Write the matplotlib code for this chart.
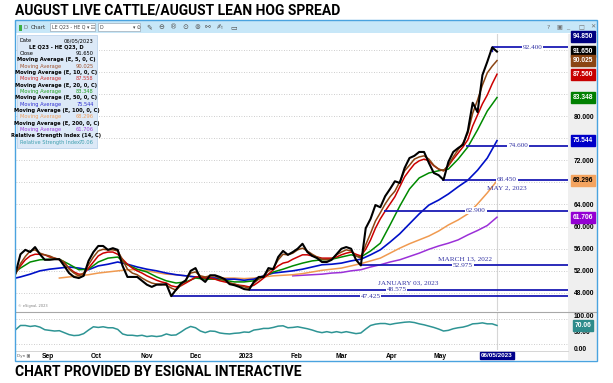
import numpy as np
import pandas as pd
import matplotlib
matplotlib.use("Agg")
import matplotlib.pyplot as plt
import matplotlib.dates as mdates
from matplotlib.patches import Rectangle
from matplotlib.lines import Line2D

# ---- values (LE Q23 - HE Q23, daily) ----
close_dates = pd.date_range("2022-08-12", "2023-06-05", freq="3D")
close = [51.6, 55.0, 55.8, 55.4, 56.3, 55.0, 54.0, 54.0, 54.1, 54.1,
         52.9, 51.6, 50.9, 50.7, 51.1, 53.8, 55.4, 56.5, 56.5, 55.8,
         56.1, 55.8, 52.9, 50.9, 50.9, 50.9, 50.2, 49.5, 49.1, 49.5,
         49.5, 49.6, 47.43, 48.6, 49.7, 50.3, 52.0, 52.5, 50.7, 50.0,
         51.2, 51.2, 50.9, 50.5, 49.6, 49.4, 49.1, 48.7, 48.58, 50.0,
         50.9, 50.9, 52.5, 52.3, 54.5, 55.6, 54.9, 55.4, 56.0, 56.9,
         55.4, 54.7, 54.3, 53.6, 53.6, 54.0, 55.0, 56.0, 56.3, 56.0,
         54.0, 52.98, 59.7, 61.4, 63.9, 63.5, 65.5, 66.8, 68.2, 67.9,
         70.6, 72.4, 72.8, 73.5, 73.5, 71.5, 69.7, 69.3, 68.45, 71.7,
         73.5, 74.2, 74.8, 77.3, 82.4, 80.7, 87.4, 89.8, 92.4, 91.65]
ema5 = [51.4, 53.3, 54.6, 55.6, 55.8, 55.2, 54.9, 54.7, 54.3, 54.1,
        53.6, 52.3, 51.6, 51.1, 51.6, 53.1, 54.5, 55.6, 55.9, 55.8,
        55.8, 55.6, 54.0, 52.3, 51.6, 51.3, 50.7, 50.2, 49.8, 49.6,
        49.6, 49.4, 48.9, 48.5, 49.4, 50.3, 51.6, 51.8, 51.1, 50.9,
        51.1, 51.1, 50.7, 50.3, 49.8, 49.6, 49.3, 49.1, 48.9, 49.8,
        50.5, 51.1, 52.0, 52.5, 54.0, 55.0, 54.9, 55.2, 55.8, 56.1,
        55.6, 55.0, 54.5, 54.1, 54.0, 54.1, 54.9, 55.4, 55.8, 55.6,
        54.7, 54.3, 56.7, 58.8, 61.0, 62.5, 64.1, 65.4, 66.4, 68.1,
        70.1, 71.1, 72.2, 72.6, 72.8, 72.2, 71.1, 70.4, 70.1, 71.1,
        72.6, 73.9, 75.1, 76.9, 80.5, 82.9, 85.6, 87.8, 89.0, 90.025]
ema10 = [51.6, 52.9, 54.0, 54.7, 55.0, 55.0, 54.9, 54.5, 54.3, 54.0,
         53.4, 52.5, 51.8, 51.4, 51.4, 52.5, 53.6, 54.7, 55.2, 55.4,
         55.4, 55.0, 54.1, 53.2, 52.5, 52.0, 51.6, 51.1, 50.7, 50.3,
         50.0, 49.8, 49.3, 49.1, 49.3, 49.8, 50.3, 50.9, 50.9, 50.7,
         50.7, 50.5, 50.2, 50.0, 49.8, 49.6, 49.4, 49.3, 49.1, 49.4,
         50.0, 50.7, 51.4, 52.2, 52.9, 53.4, 53.6, 54.1, 54.5, 54.9,
         54.9, 54.7, 54.5, 54.3, 54.3, 54.3, 54.5, 54.9, 55.2, 55.4,
         55.0, 54.7, 55.9, 57.6, 59.7, 61.4, 62.8, 64.1, 65.4, 67.2,
         69.0, 70.2, 71.3, 71.9, 72.2, 71.9, 71.0, 70.4, 70.1, 71.0,
         72.2, 73.3, 74.4, 75.7, 78.2, 80.2, 82.2, 83.8, 85.8, 87.56]
rsi = [57, 70, 70, 67, 69, 65, 57, 55, 53, 54,
       48, 42, 39, 40, 45, 56, 66, 64, 66, 63,
       63, 58, 44, 40, 40, 38, 40, 36, 38, 36,
       38, 44, 40, 41, 50, 60, 67, 63, 53, 48,
       53, 52, 47, 45, 44, 46, 47, 50, 49, 56,
       58, 61, 61, 64, 68, 69, 63, 64, 66, 63,
       60, 56, 51, 48, 51, 48, 51, 48, 51, 48,
       45, 47, 59, 70, 74, 76, 76, 73, 76, 78,
       80, 81, 79, 75, 72, 68, 64, 59, 53, 55,
       60, 63, 65, 69, 75, 76, 78, 75, 75, 70.06]

ma_dates = pd.date_range("2022-08-09", "2023-06-05", freq="6D")
ema20 = [51.2, 52.5, 53.6, 54.0, 54.1, 54.1, 53.2, 52.2, 52.3, 53.6,
         54.3, 54.5, 53.1, 52.3, 51.8, 50.9, 50.2, 49.8, 50.0, 50.7,
         50.5, 50.5, 50.3, 50.0, 50.0, 50.2, 50.9, 51.8, 52.3, 52.9,
         53.4, 53.8, 54.0, 54.1, 54.5, 54.9, 54.5, 55.6, 57.0, 60.3,
         63.7, 66.8, 68.8, 69.7, 70.1, 70.4, 72.2, 74.4, 77.5, 80.9,
         83.348]
ema50 = [50.5, 50.9, 51.4, 52.0, 52.3, 52.5, 52.7, 52.5, 52.2, 52.9,
         53.2, 53.6, 53.2, 52.7, 52.3, 52.0, 51.6, 51.3, 51.1, 50.9,
         50.7, 50.7, 50.5, 50.5, 50.3, 50.5, 51.1, 51.6, 51.8, 52.0,
         52.3, 52.7, 53.1, 53.2, 53.4, 53.8, 54.1, 54.9, 55.8, 57.2,
         58.7, 60.5, 62.3, 63.9, 64.8, 65.9, 67.2, 68.4, 70.2, 72.4,
         75.544]
ema100 = [np.nan] * 5 + [
         50.7, 50.9, 51.1, 51.3, 51.6, 51.8, 52.0, 52.2, 52.2, 52.0,
         51.7, 51.4, 51.3, 51.1, 50.9, 50.9, 50.8, 50.7, 50.7, 50.6,
         50.7, 50.9, 51.1, 51.2, 51.3, 51.5, 51.8, 52.1, 52.3, 52.5,
         52.9, 53.3, 53.8, 54.3, 55.2, 56.1, 56.9, 57.6, 58.3, 59.2,
         60.3, 61.2, 62.3, 64.1, 66.1, 68.296]
ema200 = [np.nan] * 29 + [
         51.1, 51.2, 51.3, 51.4, 51.6, 51.7, 52.0, 52.2, 52.7, 53.1,
         53.6, 54.0, 54.6, 55.2, 55.9, 56.5, 57.0, 57.6, 58.5, 59.3,
         60.2, 61.706]

level_values = [92.400, 74.600, 68.450, 62.900, 52.975, 48.575, 47.425]
level_starts = ["2023-06-02", "2023-05-17", "2023-05-02", "2023-03-27",
                "2023-03-13", "2023-01-03", "2022-11-16"]
level_label_dates = ["2023-06-27", "2023-06-18", "2023-06-11", "2023-05-23",
                     "2023-05-15", "2023-04-04", "2023-03-19"]
notes = ["MAY 2, 2023", "MARCH 13, 2022", "JANUARY 03, 2023"]
note_dates = ["2023-06-11", "2023-05-16", "2023-04-11"]
note_prices = [67.05, 54.15, 49.8]

tag_values = [94.850, 91.650, 90.025, 87.560, 83.348, 75.544, 68.296, 61.706]
tag_colors = ["#000080", "#000000", "#8b4513", "#c80000", "#008000",
              "#0000c8", "#f4a460", "#9400d3"]
price_ticks = [48, 52, 56, 60, 64, 68, 72, 76, 80, 84, 88, 92]
price_tick_labels = ["48.000", "52.000", "56.000", "60.000", "64.000", "",
                     "72.000", "", "80.000", "", "", ""]

month_starts = ["2022-09-01", "2022-10-01", "2022-11-01", "2022-12-01", "2023-01-01",
                "2023-02-01", "2023-03-01", "2023-04-01", "2023-05-01"]
month_labels = ["Sep", "Oct", "Nov", "Dec", "2023", "Feb", "Mar", "Apr", "May"]
last_day = "2023-06-05"

legend_rows = [("Date", "06/05/2023", "#000000", False),
               ("LE Q23 - HE Q23, D", None, "#000000", True),
               ("Close", "91.650", "#000000", False),
               ("Moving Average (E, 5, 0, C)", None, "#000000", True),
               ("Moving Average", "90.025", "#a0522d", False),
               ("Moving Average (E, 10, 0, C)", None, "#000000", True),
               ("Moving Average", "87.558", "#d03030", False),
               ("Moving Average (E, 20, 0, C)", None, "#000000", True),
               ("Moving Average", "83.348", "#20a020", False),
               ("Moving Average (E, 50, 0, C)", None, "#000000", True),
               ("Moving Average", "75.544", "#3030d0", False),
               ("Moving Average (E, 100, 0, C)", None, "#000000", True),
               ("Moving Average", "68.296", "#f0a060", False),
               ("Moving Average (E, 200, 0, C)", None, "#000000", True),
               ("Moving Average", "61.706", "#a040e0", False),
               ("Relative Strength Index (14, C)", None, "#000000", True),
               ("Relative Strength Index", "70.06", "#40a0b0", False)]

# ---- layout (pixels of a 613x383 picture) ----
W, H = 613, 383
NARROW = ["Liberation Sans Narrow", "DejaVu Sans"]
LEVEL_BLUE = "#1a1ab4"


def fx(x):
    return x / W


def fy(y):
    return 1 - y / H


fig = plt.figure(figsize=(W / 100, H / 100), dpi=100)
fig.patch.set_facecolor("white")

# window chrome
fig.add_artist(Rectangle((fx(16), fy(33)), fx(581), 12 / H, transform=fig.transFigure,
                         fc="#c7e7f8", ec="none", zorder=-2))
fig.add_artist(Rectangle((fx(568), fy(360)), fx(29), 326 / H, transform=fig.transFigure,
                         fc="#efefef", ec="none", zorder=-2))
fig.add_artist(Rectangle((fx(15), fy(361)), fx(582), 341 / H, transform=fig.transFigure,
                         fc="none", ec="#4aa3df", lw=1.0, zorder=8))

ax = fig.add_axes([fx(16), fy(311), fx(552), 277 / H])
rx = fig.add_axes([fx(16), fy(350), fx(552), 38 / H], sharex=ax)

x0 = mdates.date2num(pd.Timestamp("2022-08-12"))
x_right = x0 + 340.8
ax.set_xlim(x0 + 0.25, x_right)
ax.set_ylim(44.74, 94.83)
rx.set_ylim(-5.2, 111.3)

# price panel
ax.plot(ma_dates, ema200, color="#9b30d8", lw=1.1, zorder=2)
ax.plot(ma_dates, ema100, color="#f09a50", lw=1.1, zorder=2)
ax.plot(ma_dates, ema50, color="#0010c8", lw=1.2, zorder=2)
ax.plot(ma_dates, ema20, color="#008a00", lw=1.1, zorder=2)
ax.plot(close_dates, ema10, color="#cc0000", lw=1.1, zorder=2)
ax.plot(close_dates, ema5, color="#8b4513", lw=1.1, zorder=2)

for v, s, ld in zip(level_values, level_starts, level_label_dates):
    xs = mdates.date2num(pd.Timestamp(s))
    ax.plot([xs, x_right], [v, v], color=LEVEL_BLUE, lw=1.3, zorder=4,
            solid_capstyle="butt")
    ax.text(pd.Timestamp(ld), v, f"{v:.3f}", fontsize=5.2, family="Liberation Serif",
            color="#3535a5", ha="center", va="center", zorder=5,
            bbox=dict(boxstyle="square,pad=0.12", fc="white", ec="none"))
ax.plot([pd.Timestamp(level_starts[0])] * 2, [level_values[0], level_values[0] - 0.7],
        color=LEVEL_BLUE, lw=1.0, zorder=4)
for t, d, p in zip(notes, note_dates, note_prices):
    ax.text(pd.Timestamp(d), p, t, fontsize=5.2, family="Liberation Serif",
            color="#3535a5", ha="center", va="center", zorder=5)

ax.plot(close_dates, close, color="black", lw=1.5, zorder=6)

ax.axvline(pd.Timestamp(last_day), color="#d6d6d6", lw=0.8, zorder=1)
ax.set_yticks(price_ticks)
ax.set_yticklabels(price_tick_labels)
ax.yaxis.tick_right()
ax.tick_params(axis="y", length=0, pad=4, labelsize=4.8)
for lbl in ax.get_yticklabels():
    lbl.set_fontweight("bold")
    lbl.set_family("Liberation Sans")
ax.tick_params(axis="x", length=0, labelbottom=False)
ax.grid(axis="y", linestyle=(0, (1, 2)), color="#bdbdbd", lw=0.6)
for sp in ax.spines.values():
    sp.set_visible(False)

ytr = ax.get_yaxis_transform()
for v, c in zip(tag_values, tag_colors):
    fg = "black" if c == "#f4a460" else "white"
    ax.text(1.0272, min(v, 94.35), f"{v:.3f}", transform=ytr, ha="center", va="center",
            fontsize=4.8, fontweight="bold", family="Liberation Sans", color=fg,
            clip_on=False, zorder=10,
            bbox=dict(boxstyle="square,pad=0.28", fc=c, ec=c))

ax.text(0.003, 0.012, "\u00a9 eSignal, 2023", transform=ax.transAxes, fontsize=2.6,
        color="#808080", ha="left", va="bottom")

# RSI panel
rx.plot(close_dates, rsi, color="#2e9494", lw=1.1, zorder=3)
rx.axvline(pd.Timestamp(last_day), color="#d6d6d6", lw=0.8, zorder=1)
for g in (89, 13):
    rx.axhline(g, color="#bdbdbd", lw=0.6, linestyle=(0, (1, 2)), zorder=1)
rx.set_yticks([0, 50, 100])
rx.set_yticklabels(["0.00", "50.00", "100.00"])
rx.yaxis.tick_right()
rx.tick_params(axis="y", length=0, pad=4, labelsize=4.8)
for lbl in rx.get_yticklabels():
    lbl.set_fontweight("bold")
    lbl.set_family("Liberation Sans")
rx.set_xticks([pd.Timestamp(m) for m in month_starts])
rx.set_xticklabels(month_labels)
rx.tick_params(axis="x", length=0, pad=2.2, labelsize=4.8)
for lbl in rx.get_xticklabels():
    lbl.set_fontweight("bold")
    lbl.set_family("Liberation Sans")
for sp in rx.spines.values():
    sp.set_visible(False)
rx.text(1.0272, rsi[-1], f"{rsi[-1]:.2f}", transform=rx.get_yaxis_transform(),
        ha="center", va="center", fontsize=4.8, fontweight="bold",
        family="Liberation Sans", color="white", clip_on=False, zorder=10,
        bbox=dict(boxstyle="square,pad=0.28", fc="#2e8b8b", ec="#2e8b8b"))

# separators
fig.add_artist(Line2D([fx(16), fx(597)], [fy(311.5)] * 2, color="#a8a8a8", lw=0.8))
fig.add_artist(Line2D([fx(16), fx(568)], [fy(350.5)] * 2, color="#cfcfcf", lw=0.6))

# highlighted last date on the time scale
fig.text(fx(497), fy(355.5), "06/05/2023", ha="center", va="center", fontsize=4.6,
         fontweight="bold", family="Liberation Sans", color="white", zorder=9,
         bbox=dict(boxstyle="square,pad=0.2", fc="#00008b", ec="#00008b"))
fig.text(fx(17), fy(355.5), "Dyn \u25a3", fontsize=3, color="#606060", va="center")

# legend box
fig.add_artist(Rectangle((fx(16.7), fy(148.3)), 80 / W, 113.3 / H, transform=fig.transFigure,
                         fc="#dce9f7", ec="#b4cfea", lw=0.5, zorder=7))
for k, (left, right, col, centre) in enumerate(legend_rows):
    yy = fy(40.7 + k * 6.35)
    if centre:
        fig.text(fx(56.5), yy, left, ha="center", va="center", fontsize=3.7,
                 fontweight="bold", family=NARROW, color=col, zorder=9)
    else:
        fig.text(fx(20), yy, left, ha="left", va="center", fontsize=3.7,
                 family=NARROW, color=col, zorder=9)
    if right:
        fig.text(fx(93.5), yy, right, ha="right", va="center", fontsize=3.7,
                 family=NARROW, color=col, zorder=9)

# toolbar
fig.add_artist(Rectangle((fx(19), fy(30.5)), 3 / W, 6 / H, transform=fig.transFigure,
                         fc="#3cb043", ec="none", zorder=3))
fig.text(fx(23), fy(27.3), "D", fontsize=4, color="#707070", va="center")
fig.text(fx(31), fy(27.3), "Chart", fontsize=4, family=NARROW, color="#303030", va="center")
for bx, bw, txt in ((50, 45, "LE Q23 - HE Q \u25be \u2637"), (98, 42, "D")):
    fig.add_artist(Rectangle((fx(bx), fy(31)), bw / W, 7.5 / H, transform=fig.transFigure,
                             fc="white", ec="#8c9aa8", lw=0.4, zorder=3))
    fig.text(fx(bx + 2), fy(27.3), txt, fontsize=3.4, family=NARROW, color="#404040",
             va="center", zorder=4)
fig.text(fx(133), fy(27.3), "\u25be \u2299", fontsize=3.4, color="#404040", va="center")
for ix, glyph in zip((146, 158, 170, 182, 194, 205, 217, 230),
                     ("\u270e", "\u2296", "\u00ae", "\u2299", "\u229a", "\u26af", "\u270d", "\u25ad")):
    fig.text(fx(ix), fy(27.3), glyph, fontsize=5, color="#505050", va="center")
for ix, glyph in zip((547, 556, 566, 578, 590), ("?", "\u25a3", "_", "\u25a1", "\u2715")):
    fig.text(fx(ix), fy(27.3), glyph, fontsize=4.5, color="#707070", va="center")

# headline and credit
fig.text(fx(15), fy(10.5), "AUGUST LIVE CATTLE/AUGUST LEAN HOG SPREAD", fontsize=10,
         fontweight="bold", family="Roboto", ha="left", va="center")
fig.text(fx(15), fy(372.5), "CHART PROVIDED BY ESIGNAL INTERACTIVE", fontsize=10,
         fontweight="bold", family="Roboto", ha="left", va="center")

fig.savefig("out.png", dpi=100)
